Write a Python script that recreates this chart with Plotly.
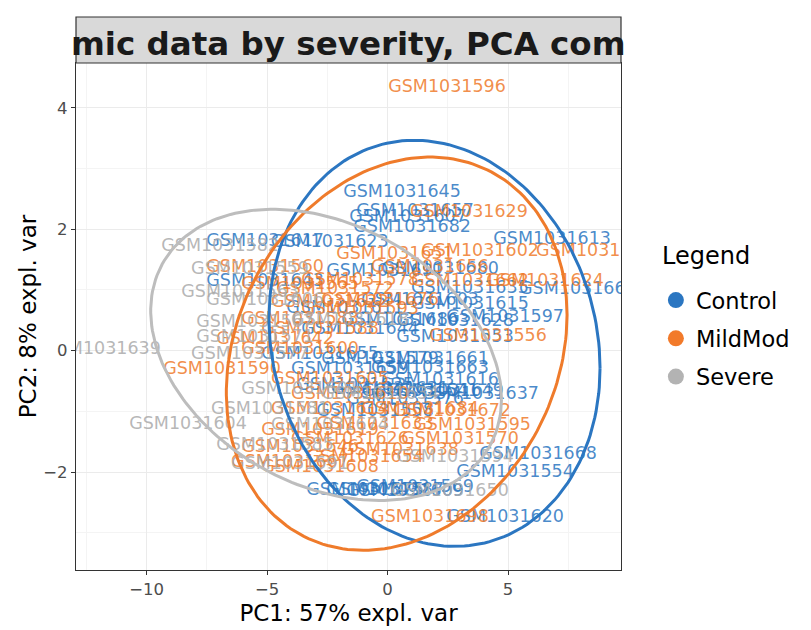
import numpy as np
import plotly.graph_objects as go

# ---------------- data ----------------
control_ids = ["GSM1031645", "GSM1031657", "GSM1031607", "GSM1031682", "GSM1031613", "GSM1031666",
               "GSM1031617", "GSM1031623", "GSM1031643", "GSM1031680", "GSM1031691", "GSM1031635",
               "GSM1031615", "GSM1031597", "GSM1031628", "GSM1031553", "GSM1031661", "GSM1031663",
               "GSM1031637", "GSM1031668", "GSM1031554", "GSM1031620", "GSM1031575", "GSM1031587",
               "GSM1031609", "GSM1031569", "GSM1031625", "GSM1031631", "GSM1031641", "GSM1031649",
               "GSM1031576", "GSM1031659", "GSM1031558", "GSM1031655", "GSM1031611", "GSM1031686",
               "GSM1031603", "GSM1031616", "GSM1031579", "GSM1031644"]
control_pc1 = [0.60, 1.14, 0.85, 1.02, 6.83, 7.90, -5.08, -2.40, -5.08, 2.18, -0.10, 3.42,
               3.42, 4.88, 2.80, 2.80, 1.76, 1.76, 3.84, 6.25, 5.29, 4.88, -0.93, -0.10,
               0.73, 1.14, -1.35, 0.10, 1.35, 2.39, 0.73, -1.56, -0.52, -2.80, -1.76, 0.52,
               1.35, 2.18, -0.31, -1.14]
control_pc2 = [2.60, 2.29, 2.19, 2.02, 1.83, 1.00, 1.80, 1.78, 1.13, 1.33, 1.30, 1.03,
               0.75, 0.54, 0.47, 0.21, -0.15, -0.29, -0.73, -1.72, -2.01, -2.76, -2.30, -2.30,
               -2.33, -2.25, -0.57, -0.65, -0.68, -0.68, -0.81, -0.32, -1.01, -0.07, 0.70, 0.50,
               0.83, -0.49, -0.15, 0.34]

mildmod_ids = ["GSM1031596", "GSM1031629", "GSM1031602", "GSM1031599", "GSM1031590", "GSM1031642",
               "GSM1031608", "GSM1031654", "GSM1031570", "GSM1031595", "GSM1031672", "GSM1031698",
               "GSM1031556", "GSM1031624", "GSM1031622", "GSM1031560", "GSM1031565", "GSM1031572",
               "GSM1031578", "GSM1031583", "GSM1031588", "GSM1031593", "GSM1031600", "GSM1031605",
               "GSM1031610", "GSM1031614", "GSM1031619", "GSM1031626", "GSM1031633", "GSM1031638",
               "GSM1031646", "GSM1031651", "GSM1031656", "GSM1031662", "GSM1031667", "GSM1031676",
               "GSM1031684"]
mildmod_pc1 = [2.47, 3.38, 3.84, 8.61, -6.87, -4.67, -2.80, -0.93, 3.01, 3.51, 2.68, 1.76,
               4.17, 6.54, -2.39, -5.08, -3.63, -2.18, -1.14, -3.63, -2.80, -1.14, -3.63, -2.39,
               -1.56, -2.39, -2.80, -1.56, -0.52, 0.52, -3.63, 0.31, 1.76, 3.42, -4.05, -0.31,
               1.35]
mildmod_pc2 = [4.34, 2.28, 1.63, 1.63, -0.32, 0.18, -1.93, -1.77, -1.47, -1.24, -1.01, -2.76,
               0.23, 1.13, 0.79, 1.36, 1.08, 1.00, 1.16, 0.51, 0.34, 0.67, 0.01, -0.48,
               -0.73, -0.98, -1.31, -1.47, -1.22, -1.64, -1.60, 1.58, 1.36, 1.13, -1.84, 0.83,
               -0.98]

severe_ids = ["GSM1031582", "GSM1031639", "GSM1031604", "GSM1031650", "GSM1031559", "GSM1031563",
              "GSM1031567", "GSM1031571", "GSM1031577", "GSM1031581", "GSM1031585", "GSM1031591",
              "GSM1031594", "GSM1031601", "GSM1031606", "GSM1031618", "GSM1031634", "GSM1031674"]
severe_pc1 = [-6.95, -11.85, -8.28, 2.59, -5.71, -6.12, -5.50, -5.50, -5.71, -4.88, -4.67, -4.05,
              2.80, -3.63, -5.08, -1.56, -0.31, -2.39]
severe_pc2 = [1.71, 0.01, -1.22, -2.33, 1.33, 0.95, 0.46, 0.21, -0.07, -0.98, -1.56, -1.88,
              -1.77, -0.65, 0.83, 0.50, -0.73, -1.23]

groups = ["Control", "MildMod", "Severe"]
# ellipse parameters per group: centre and covariance (Sxx, Syy, Sxy)
ell_center_x = [1.95, 0.38, -2.55]
ell_center_y = [0.12, -0.05, -0.07]
ell_sxx = [47.2, 50.0, 53.0]
ell_syy = [11.2, 10.5, 5.76]
ell_sxy = [-2.8, 4.5, -5.3]

x_ticks = [-10, -5, 0, 5]
y_ticks = [-2, 0, 2, 4]

# ---------------- styling ----------------
FONT = "DejaVu Sans"
line_colors = {"Control": "#2B76C1", "MildMod": "#EF7B2B", "Severe": "#BDBDBD"}
legend_colors = {"Control": "#2B76C1", "MildMod": "#F27A2A", "Severe": "#B3B3B3"}
text_colors = {"Control": "rgba(43,118,193,0.85)", "MildMod": "rgba(239,123,43,0.85)",
               "Severe": "rgba(170,170,170,0.85)"}

fig = go.Figure()

data_sets = {
    "Control": (control_ids, control_pc1, control_pc2),
    "MildMod": (mildmod_ids, mildmod_pc1, mildmod_pc2),
    "Severe": (severe_ids, severe_pc1, severe_pc2),
}

for g in groups:
    ids, xs, ys = data_sets[g]
    fig.add_trace(go.Scatter(
        x=xs, y=ys, mode="text", text=ids,
        textfont=dict(family=FONT, size=17.5, color=text_colors[g]),
        textposition="middle center", showlegend=False, hoverinfo="skip",
        cliponaxis=True))

t = np.linspace(0, 2 * np.pi, 200)
for i, g in enumerate(groups):
    l00 = np.sqrt(ell_sxx[i])
    l10 = ell_sxy[i] / l00
    l11 = np.sqrt(ell_syy[i] - l10 ** 2)
    ex = ell_center_x[i] + l00 * np.cos(t)
    ey = ell_center_y[i] + l10 * np.cos(t) + l11 * np.sin(t)
    fig.add_trace(go.Scatter(x=ex, y=ey, mode="lines",
                             line=dict(color=line_colors[g], width=3),
                             showlegend=False, hoverinfo="skip", cliponaxis=True))

for g in groups:
    fig.add_trace(go.Scatter(x=[None], y=[None], mode="markers", name=g,
                             legendgroup=g, cliponaxis=False,
                             marker=dict(size=16, color=legend_colors[g])))

axis_common = dict(
    showline=True, mirror=True, linecolor="#333333", linewidth=1.2,
    ticks="outside", ticklen=4, tickcolor="#333333", tickwidth=1,
    tickfont=dict(family=FONT, size=16.5, color="#4D4D4D"),
    showgrid=True, gridcolor="#EBEBEB", gridwidth=1, zeroline=False,
    automargin=False,
)

fig.update_layout(
    width=811, height=630,
    margin=dict(l=76, r=190, t=63, b=60, autoexpand=False),
    plot_bgcolor="white", paper_bgcolor="white",
    xaxis=dict(range=[-12.93, 9.69], tickvals=x_ticks,
               minor=dict(tickvals=[-12.5, -7.5, -2.5, 2.5, 7.5], showgrid=True,
                          gridcolor="#F4F4F4", gridwidth=0.8, ticks=""),
               title=dict(text="PC1: 57% expl. var", font=dict(family=FONT, size=23, color="black"),
                          standoff=6),
               **axis_common),
    yaxis=dict(range=[-3.615, 4.74], tickvals=y_ticks,
               minor=dict(tickvals=[-3, -1, 1, 3], showgrid=True,
                          gridcolor="#F4F4F4", gridwidth=0.8, ticks=""),
               title=dict(text="PC2: 8% expl. var", font=dict(family=FONT, size=23, color="black"),
                          standoff=0),
               **axis_common),
    legend=dict(x=1.064, y=0.574, xanchor="left", yanchor="top",
                font=dict(family=FONT, size=22.5, color="black"),
                tracegroupgap=6, bgcolor="rgba(255,255,255,0)"),
    shapes=[dict(type="rect", xref="paper", yref="paper", x0=0, x1=1, y0=1, y1=1 + 46 / 507,
                 fillcolor="#D9D9D9", line=dict(color="#333333", width=1.2), layer="above")],
    annotations=[
        dict(text="mic data by severity, PCA com", xref="paper", yref="paper",
             x=0.5, y=1 + 19 / 507, xanchor="center", yanchor="middle", showarrow=False,
             font=dict(family=FONT, size=32.5, color="#1A1A1A", weight="bold")),
        dict(text="Legend", xref="paper", yref="paper",
             x=(660 - 76) / 545, y=(570 - 256) / 507, xanchor="left", yanchor="middle",
             showarrow=False, font=dict(family=FONT, size=24, color="black")),
    ],
)

fig.write_html("out.html")
